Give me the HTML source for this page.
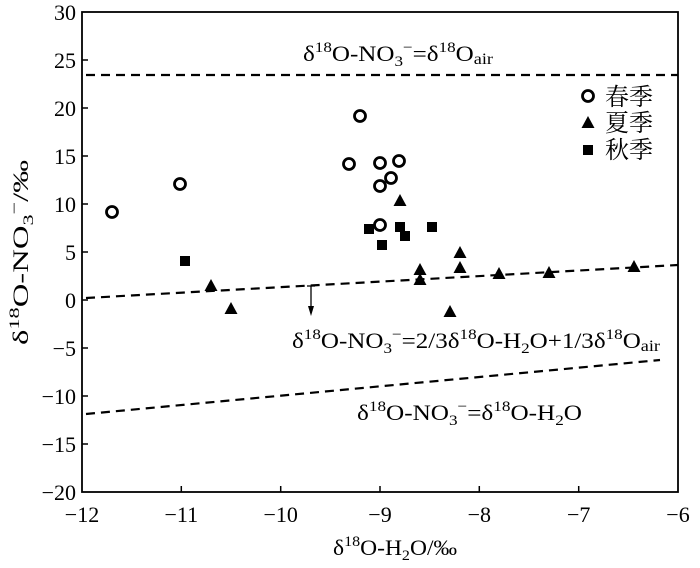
<!DOCTYPE html>
<html><head><meta charset="utf-8"><style>
body{margin:0;background:#fff}
svg text{font-family:"Liberation Serif","Noto Serif CJK SC",serif;fill:#000}
</style></head><body>
<svg width="700" height="563" viewBox="0 0 700 563" xmlns="http://www.w3.org/2000/svg">
<defs>
<circle id="c" r="5.5" fill="#fff" stroke="#000" stroke-width="2.8"/>
<polygon id="t" points="0,-7 6.5,5 -6.5,5" fill="#000"/>
<rect id="s" x="-5" y="-5" width="10" height="10" fill="#000"/>
</defs>
<rect x="82" y="12" width="596" height="480" fill="none" stroke="#000" stroke-width="1.8"/>
<g stroke="#000" stroke-width="1.5">
<line x1="82" y1="60" x2="88" y2="60"/><line x1="82" y1="108" x2="88" y2="108"/><line x1="82" y1="156" x2="88" y2="156"/><line x1="82" y1="204" x2="88" y2="204"/><line x1="82" y1="252" x2="88" y2="252"/><line x1="82" y1="300" x2="88" y2="300"/><line x1="82" y1="348" x2="88" y2="348"/><line x1="82" y1="396" x2="88" y2="396"/><line x1="82" y1="444" x2="88" y2="444"/>
<line x1="181.3" y1="492" x2="181.3" y2="486"/><line x1="280.7" y1="492" x2="280.7" y2="486"/><line x1="380" y1="492" x2="380" y2="486"/><line x1="479.3" y1="492" x2="479.3" y2="486"/><line x1="578.7" y1="492" x2="578.7" y2="486"/>
</g>
<g font-size="22" text-anchor="end">
<text x="76" y="20">30</text><text x="76" y="68">25</text><text x="76" y="116">20</text><text x="76" y="164">15</text><text x="76" y="212">10</text><text x="76" y="260">5</text><text x="76" y="308">0</text><text x="76" y="356">−5</text><text x="76" y="404">−10</text><text x="76" y="452">−15</text><text x="76" y="500">−20</text>
</g>
<g font-size="22" text-anchor="middle">
<text x="82" y="522">−12</text><text x="181.3" y="522">−11</text><text x="280.7" y="522">−10</text><text x="380" y="522">−9</text><text x="479.3" y="522">−8</text><text x="578.7" y="522">−7</text><text x="678" y="522">−6</text>
</g>
<text x="333" y="555" font-size="22" textLength="124" lengthAdjust="spacingAndGlyphs">δ<tspan font-size="15" dy="-9">18</tspan><tspan dy="9">O-H</tspan><tspan font-size="15" dy="5">2</tspan><tspan dy="-5">O/‰</tspan></text>
<text transform="translate(28,345) rotate(-90)" font-size="22" textLength="185" lengthAdjust="spacingAndGlyphs">δ<tspan font-size="15" dy="-9">18</tspan><tspan dy="9">O-NO</tspan><tspan font-size="15" dy="5">3</tspan><tspan font-size="15" dy="-14">−</tspan><tspan dy="9">/‰</tspan></text>
<g stroke="#000" stroke-width="2.2" stroke-dasharray="9,6" fill="none">
<line x1="86" y1="75" x2="678" y2="75"/>
<line x1="86" y1="298" x2="678" y2="265"/>
<line x1="86" y1="414" x2="660" y2="360"/>
</g>
<g stroke="#000" stroke-width="1.3"><line x1="311" y1="286" x2="311" y2="312"/><line x1="307" y1="286" x2="315" y2="286"/></g>
<polygon points="308,306 314,306 311,316" fill="#000"/>
<text x="303" y="61" font-size="22" textLength="190" lengthAdjust="spacingAndGlyphs">δ<tspan font-size="15" dy="-9">18</tspan><tspan dy="9">O-NO</tspan><tspan font-size="15" dy="5">3</tspan><tspan font-size="15" dy="-14">−</tspan><tspan dy="9">=δ</tspan><tspan font-size="15" dy="-9">18</tspan><tspan dy="9">O</tspan><tspan font-size="16" dy="3">air</tspan></text>
<text x="292" y="348" font-size="22" textLength="368" lengthAdjust="spacingAndGlyphs">δ<tspan font-size="15" dy="-9">18</tspan><tspan dy="9">O-NO</tspan><tspan font-size="15" dy="5">3</tspan><tspan font-size="15" dy="-14">−</tspan><tspan dy="9">=2/3δ</tspan><tspan font-size="15" dy="-9">18</tspan><tspan dy="9">O-H</tspan><tspan font-size="15" dy="5">2</tspan><tspan dy="-5">O+1/3δ</tspan><tspan font-size="15" dy="-9">18</tspan><tspan dy="9">O</tspan><tspan font-size="16" dy="3">air</tspan></text>
<text x="357" y="420" font-size="22" textLength="225" lengthAdjust="spacingAndGlyphs">δ<tspan font-size="15" dy="-9">18</tspan><tspan dy="9">O-NO</tspan><tspan font-size="15" dy="5">3</tspan><tspan font-size="15" dy="-14">−</tspan><tspan dy="9">=δ</tspan><tspan font-size="15" dy="-9">18</tspan><tspan dy="9">O-H</tspan><tspan font-size="15" dy="5">2</tspan><tspan dy="-5">O</tspan></text>
<use href="#c" x="112" y="212"/><use href="#c" x="180" y="184"/><use href="#c" x="349" y="164"/><use href="#c" x="360" y="116"/><use href="#c" x="380" y="163"/><use href="#c" x="391" y="178"/><use href="#c" x="380" y="186"/><use href="#c" x="399" y="161"/>
<use href="#s" x="185" y="261"/><use href="#s" x="369" y="229"/><use href="#s" x="382" y="245"/><use href="#s" x="400" y="227"/><use href="#s" x="405" y="236"/><use href="#s" x="432" y="227"/>
<use href="#c" x="380" y="225"/>
<use href="#t" x="211" y="286"/><use href="#t" x="231" y="309"/><use href="#t" x="400" y="201"/><use href="#t" x="420" y="270"/><use href="#t" x="420" y="280"/><use href="#t" x="460" y="253"/><use href="#t" x="460" y="268"/><use href="#t" x="450" y="312"/><use href="#t" x="499" y="274"/><use href="#t" x="549" y="273"/><use href="#t" x="634" y="267"/>
<use href="#c" x="588" y="96"/><use href="#t" x="588" y="123"/><use href="#s" x="588" y="150"/>
<g font-size="24"><text x="605" y="105">春季</text><text x="605" y="131">夏季</text><text x="605" y="158">秋季</text></g>
</svg>
</body></html>
